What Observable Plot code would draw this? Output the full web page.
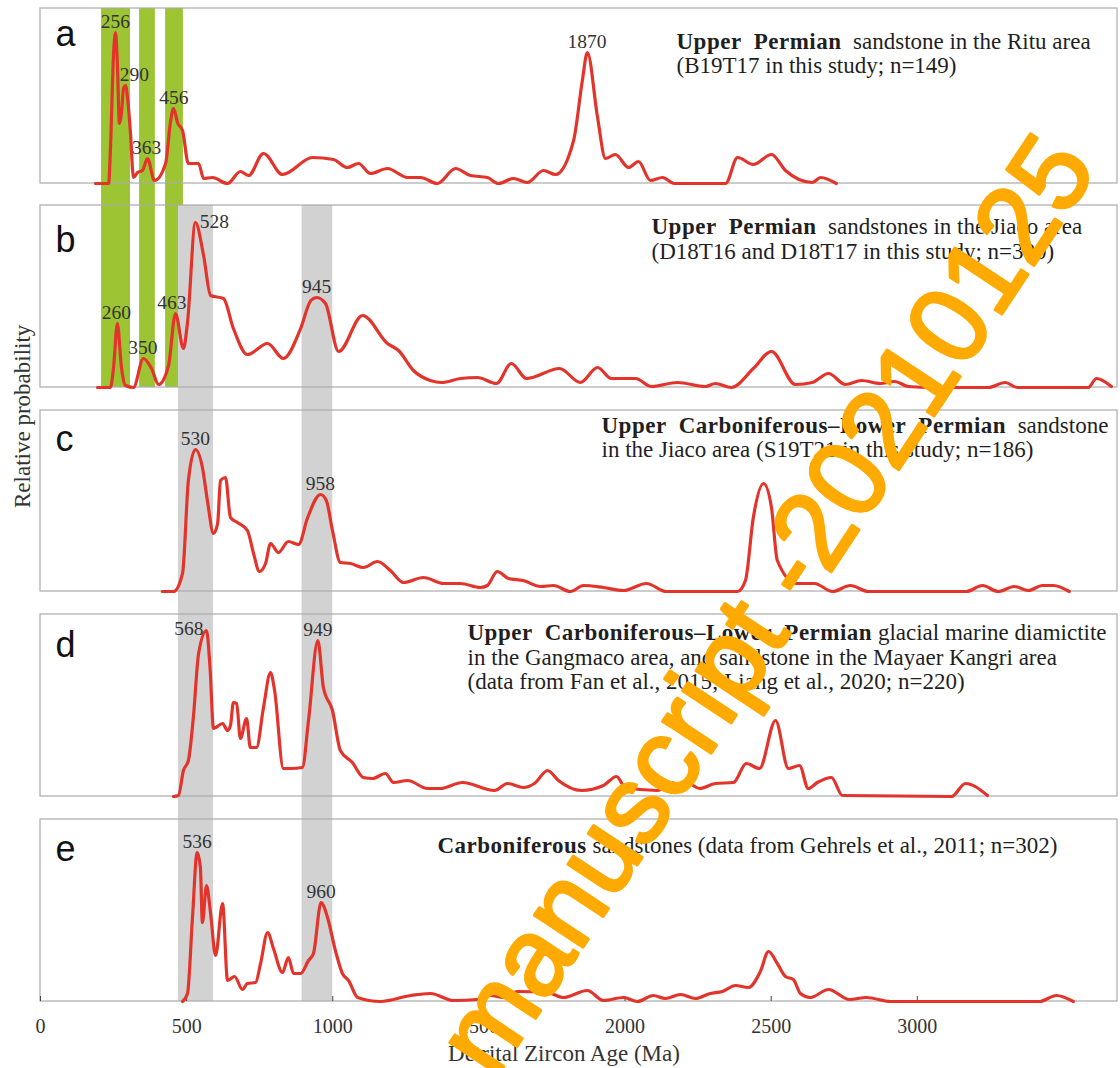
<!DOCTYPE html>
<html>
<head>
<meta charset="utf-8">
<script src="https://cdn.jsdelivr.net/npm/d3@7"></script>
<script src="https://cdn.jsdelivr.net/npm/@observablehq/plot@0.6"></script>
<style>
  body { margin: 0; background: #fff; }
  #chart { width: 1120px; height: 1068px; }
</style>
</head>
<body>
<div id="chart"></div>
<script>
// ---------------- DATA ----------------
const panelIds = ["a", "b", "c", "d", "e"];

// Panel a: Upper Permian sandstone, Ritu area (B19T17, n=149)
const agesA = [188,233,240,250,257,263,270,277,284,291,298,308,318,332,349,366,390,428,445,455,470,486,506,541,558,588,640,684,712,763,828,931,1002,1050,1088,1129,1187,1256,1300,1358,1420,1471,1529,1567,1618,1666,1721,1762,1824,1854,1871,1906,1933,1967,2012,2046,2087,2128,2169,2344,2385,2439,2501,2549,2641,2669,2723];
const probA = [0,0,40,130,151,120,60,70,95,98,85,50,6,11,13,25,3,20,62,75,60,53,20,20,5,6,0,12,8,30,9,26,24,16,20,10,15,6,6,0,15,8,6,0,5,1,13,9,43,103,131,66,25,29,16,22,3,6,0,0,26,19,29,13,1,6,0];

// Panel b: Upper Permian sandstones, Jiaco area (D18T16, D18T17, n=380)
const agesB = [195,239,250,263,277,291,318,352,380,404,438,462,489,503,530,558,582,626,660,708,777,831,890,925,945,975,1020,1102,1187,1225,1276,1334,1372,1437,1495,1560,1611,1663,1776,1847,1906,1953,2036,2090,2179,2275,2309,2364,2439,2501,2583,2641,2696,2754,2809,2874,2922,2970,3052,3243,3301,3342,3585,3613,3664];
const probB = [0,0,20,64,20,2,0,29,19,3,22,74,39,65,165,132,92,89,59,33,44,29,59,87,90,84,36,72,44,37,17,7,5,9,10,4,24,9,19,5,20,9,9,1,5,1,4,0,19,36,3,5,14,3,7,4,6,1,0,0,5,0,0,9,1];

// Panel c: Upper Carboniferous–Lower Permian sandstone, Jiaco area (S19T21, n=186)
const agesC = [417,455,486,506,530,554,571,592,606,616,633,650,674,708,729,749,770,787,814,848,883,913,958,978,999,1026,1061,1105,1153,1197,1242,1310,1379,1437,1505,1529,1563,1601,1652,1711,1755,1813,1858,1926,1995,2073,2142,2385,2412,2439,2474,2501,2521,2586,2648,2710,2771,2833,3168,3223,3277,3332,3380,3428,3466,3520];
const probC = [0,0,18,111,142,124,91,58,68,111,114,74,69,61,38,20,28,48,39,50,47,73,97,91,61,29,28,24,30,21,9,14,8,8,4,6,20,13,11,5,6,0,6,4,1,8,0,0,11,74,108,84,31,8,8,0,6,0,0,6,0,5,1,6,6,0];

// Panel d: Upper Carboniferous–Lower Permian diamictite & sandstone (n=220)
const agesD = [455,472,489,506,523,541,568,580,592,623,640,650,660,671,684,705,718,739,763,787,801,831,855,896,917,949,968,999,1026,1067,1105,1136,1180,1208,1256,1324,1368,1444,1553,1598,1652,1690,1735,1772,1851,1926,1971,2001,2111,2162,2193,2217,2255,2309,2371,2415,2460,2515,2559,2597,2627,2658,2706,2744,3117,3165,3240];
const probD = [0,1,26,36,79,143,166,129,68,73,66,71,94,93,58,78,49,49,89,124,106,28,28,29,76,156,109,86,46,34,19,18,23,14,16,8,8,14,6,13,9,13,26,16,6,11,20,9,6,14,6,13,8,13,14,33,28,76,28,31,8,14,19,1,0,13,1];

// Panel e: Carboniferous sandstones (Gehrels et al., 2011; n=302)
const agesE = [486,503,520,536,547,554,568,582,599,623,640,664,691,708,736,753,777,797,828,848,866,890,917,934,960,982,1009,1033,1054,1085,1163,1266,1334,1413,1495,1540,1584,1632,1735,1789,1871,1926,1995,2042,2097,2138,2190,2241,2292,2333,2378,2422,2463,2491,2521,2549,2576,2600,2634,2696,2768,2826,2908,3418,3476,3534];
const probE = [0,8,84,149,134,79,116,88,46,98,21,25,12,18,19,38,69,53,29,44,28,28,41,48,99,84,51,28,21,4,0,6,8,1,2,6,4,10,9,4,11,1,4,0,6,3,7,3,8,10,16,14,30,50,38,25,22,8,4,12,2,4,0,0,6,0];

// Peak labels (Ma)
const peaksA = [256, 290, 363, 456, 1870];
const peaksB = [260, 350, 463, 528, 945];
const peaksC = [530, 958];
const peaksD = [568, 949];
const peaksE = [536, 960];

// Highlighted age bands (Ma)
const greenBandStart = [209, 339, 428];
const greenBandEnd   = [308, 393, 489];
const grayBandStart  = [472, 895];
const grayBandEnd    = [592, 1000];

// Panel descriptions: [bold part, normal part] per line
const descA = [["Upper  Permian", "  sandstone in the Ritu area"], ["", "(B19T17 in this study; n=149)"]];
const descB = [["Upper  Permian", "  sandstones in the Jiaco area"], ["", "(D18T16 and D18T17 in this study; n=380)"]];
const descC = [["Upper  Carboniferous\u2013Lower  Permian", "  sandstone"], ["", "in the Jiaco area (S19T21 in this study; n=186)"]];
const descD = [["Upper  Carboniferous\u2013Lower  Permian", " glacial marine diamictite"], ["", "in the Gangmaco area, and sandstone in the Mayaer Kangri area"], ["", "(data from Fan et al., 2015; Liang et al., 2020; n=220)"]];
const descE = [["Carboniferous", " sandstones (data from Gehrels et al., 2011; n=302)"]];

// Axis ticks
const xTicks = [0, 500, 1000, 1500, 2000, 2500, 3000];
const xMax = 3685;

const watermark = "manuscript -20210125";

// ---------------- LAYOUT (pixel-like units, 1 y-unit = 1px) ----------------
const panelBase = [818, 614, 410, 205, 0];     // baseline of each panel
const panelTop  = [993, 796, 591, 387, 182];   // top edge of each panel frame
const letterDrop = [37, 46, 40, 42, 41];       // letter baseline below panel top
const descStartPx = [676, 651, 601, 467, 437]; // text start (px)
const descDrops = [[40, 64], [28, 53], [22, 46], [25, 50, 74], [33]];
const pxToAge = px => (px - 40) * xMax / 1077;

const curveAges = [agesA, agesB, agesC, agesD, agesE];
const curveProbs = [probA, probB, probC, probD, probE];
const peakLists = [peaksA, peaksB, peaksC, peaksD, peaksE];
const descs = [descA, descB, descC, descD, descE];

// ---------------- BUILD ROWS ----------------
const curveRows = [];
curveAges.forEach((ages, p) => ages.forEach((a, i) => curveRows.push({panel: panelIds[p], age: a, y: panelBase[p] + curveProbs[p][i]})));

function peakValue(p, age) {
  let best = 0;
  curveAges[p].forEach((a, i) => { if (Math.abs(a - age) <= 22 && curveProbs[p][i] > best) best = curveProbs[p][i]; });
  return best;
}
const labelRows = [];
peakLists.forEach((list, p) => list.forEach(age => labelRows.push({panel: panelIds[p], age, y: panelBase[p] + peakValue(p, age), text: String(age)})));
const special = {"290": {dx: 9}, "463": {dx: -4}, "528": {anchor: "start", dx: 5, dy: 5}, "568": {anchor: "end", dx: -3, dy: 4}};
const normalLabels = labelRows.filter(d => !special[d.text]);
const specialMarks = labelRows.filter(d => special[d.text]).map(d => {
  const s = special[d.text];
  return Plot.text([d], {x: "age", y: "y", text: "text", textAnchor: s.anchor || "middle", lineAnchor: "bottom",
    dx: s.dx || 0, dy: s.dy != null ? s.dy : -5, fontSize: 19.5, fill: "#333"});
});

const frameRows = panelIds.map((id, p) => ({panel: id, y1: panelBase[p], y2: panelTop[p]}));
const greenRows = greenBandStart.map((s, i) => ({x1: s, x2: greenBandEnd[i]}));
const grayRows = grayBandStart.map((s, i) => ({x1: s, x2: grayBandEnd[i]}));
const letterRows = panelIds.map((id, p) => ({text: id, y: panelTop[p] - letterDrop[p]}));
const descRows = [];
descs.forEach((lines, p) => lines.forEach((ln, j) => descRows.push({bold: ln[0], rest: ln[1], x: pxToAge(descStartPx[p]), y: panelTop[p] - descDrops[p][j]})));

// ---------------- PLOT ----------------
const chart = Plot.plot({
  width: 1120,
  height: 1068,
  marginLeft: 40,
  marginRight: 3,
  marginTop: 8,
  marginBottom: 67,
  style: {fontFamily: "'Liberation Serif', 'Times New Roman', serif", fontSize: "18px", color: "#222", background: "#fff"},
  x: {domain: [0, xMax]},
  y: {domain: [0, 993], axis: null},
  marks: [
    Plot.rect(greenRows, {x1: "x1", x2: "x2", y1: panelBase[1], y2: panelTop[0], fill: "#9dc432"}),
    Plot.rect(grayRows, {x1: "x1", x2: "x2", y1: panelBase[4], y2: panelTop[1], fill: "#d2d2d2"}),
    Plot.rect(frameRows, {x1: 0, x2: xMax, y1: "y1", y2: "y2", fill: "none", stroke: "#ababab", strokeWidth: 1.2}),
    Plot.ruleX(xTicks, {x: d => d, y1: 0, y2: 5, stroke: "#444"}),
    Plot.line(curveRows, {x: "age", y: "y", z: "panel", stroke: "#e3342b", strokeWidth: 3.2, curve: "monotone-x"}),
    Plot.text(normalLabels, {x: "age", y: "y", text: "text", lineAnchor: "bottom", dy: -5, fontSize: 19.5, fill: "#333"}),
    ...specialMarks,
    Plot.text(letterRows, {x: 0, y: "y", text: "text", dx: 15, textAnchor: "start", lineAnchor: "bottom",
      fontSize: 36, fontFamily: "'Liberation Sans', Arial, sans-serif", fill: "#111"}),
    Plot.text(descRows, {x: "x", y: "y", text: d => d.bold + d.rest, textAnchor: "start", lineAnchor: "bottom",
      fontSize: 23, fill: "#1f1f1f", ariaDescription: "description"}),
    Plot.axisX({ticks: xTicks, tickSize: 0, tickPadding: 17, fontSize: 20, tickFormat: d => String(d), label: null, fill: "#333"}),
    Plot.text(["Detrital Zircon Age (Ma)"], {frameAnchor: "bottom", dy: 59, dx: -15, lineAnchor: "bottom", fontSize: 23, fill: "#333"}),
    Plot.text(["Relative probability"], {frameAnchor: "left", rotate: -90, dx: -18, dy: 3, lineAnchor: "middle", fontSize: 23, fill: "#333"}),
    Plot.text([watermark], {frameAnchor: "middle", dx: 188, dy: 100, rotate: -56.5, fontSize: 110, fontWeight: "normal",
      fontFamily: "'Liberation Sans', Arial, sans-serif", fill: "#ffaa00", stroke: "#ffaa00", strokeWidth: 3, strokeLinejoin: "round"})
  ]
});

document.getElementById("chart").appendChild(chart);

// Mixed bold / regular description lines
let descTexts = d3.select(chart).selectAll('g[aria-description="description"] text');
if (descTexts.empty()) descTexts = d3.select(chart).selectAll('g[fill="#1f1f1f"] text');
descTexts.each(function(_, i) {
  const d = descRows[i];
  const t = d3.select(this).style("white-space", "pre").attr("xml:space", "preserve");
  t.text(null);
  if (d.bold) t.append("tspan").attr("font-weight", "bold").attr("letter-spacing", "0.5").text(d.bold);
  t.append("tspan").text(d.rest);
});
</script>
</body>
</html>
